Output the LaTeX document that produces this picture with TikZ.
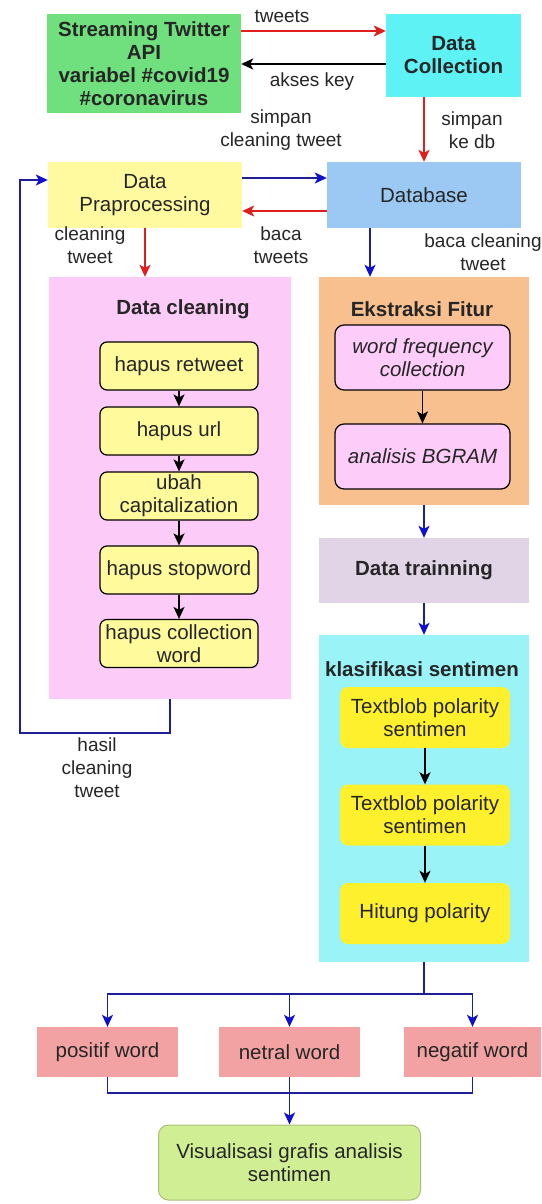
\documentclass[tikz,border=0pt]{standalone}
\usepackage{fontspec}
\setmainfont{Liberation Sans}
\usetikzlibrary{arrows.meta}
\definecolor{cGreen}{HTML}{70E07E}
\definecolor{cCyan}{HTML}{5EF2F5}
\definecolor{cPrep}{HTML}{FFF9A0}
\definecolor{cDb}{HTML}{9CC9F4}
\definecolor{cPink}{HTML}{FCCBF8}
\definecolor{cPeach}{HTML}{F8C08E}
\definecolor{cInPink}{HTML}{FDCCF9}
\definecolor{cLav}{HTML}{E0D4E6}
\definecolor{cKlas}{HTML}{9AF3F7}
\definecolor{cTb}{HTML}{FFF02E}
\definecolor{cSalmon}{HTML}{F2A2A2}
\definecolor{cVis}{HTML}{D0EE94}
\definecolor{cVisB}{HTML}{A8BE7A}
\definecolor{cInYel}{HTML}{FFFA9C}
\definecolor{cTxt}{HTML}{262626}
\definecolor{cNavy}{HTML}{1E1E96}
\definecolor{cBlueTip}{HTML}{1010D0}
\definecolor{cRed}{HTML}{E01E1E}
\newcommand\fsMain{\fontsize{20.5}{23}\selectfont}
\newcommand\fsLab{\fontsize{19}{23}\selectfont}
\begin{document}
\begin{tikzpicture}[x=1pt,y=-1pt,
  base/.style={inner sep=0pt,align=center,font=\fsMain,text=cTxt},
  lab/.style={inner sep=0pt,align=center,font=\fsLab,text=cTxt},
  ttl/.style={inner sep=0pt,align=center,font=\fsMain\bfseries,text=cTxt},
  inyel/.style={base,draw=black,line width=1.2pt,rounded corners=7pt,fill=cInYel,minimum width=158pt,minimum height=48pt},
  inpink/.style={base,draw=black,line width=1.2pt,rounded corners=9pt,fill=cInPink,minimum width=175pt,minimum height=65pt,font=\fsMain\itshape},
  tbbox/.style={base,rounded corners=8pt,fill=cTb,minimum width=170pt,minimum height=61pt},
  wordbox/.style={base,fill=cSalmon,minimum height=50pt},
  redarr/.style={line width=1.5pt,draw=cRed,-{Stealth[length=12pt,width=11pt,inset=3pt]}},
  bluearr/.style={line width=1.5pt,draw=cNavy,-{Stealth[length=12pt,width=11pt,inset=3pt,color=cBlueTip]}},
  blackarr/.style={line width=1.5pt,draw=black,-{Stealth[length=12pt,width=11pt,inset=3pt]}},
  blueline/.style={line width=1.5pt,draw=cNavy}
]
\useasboundingbox (0,0) rectangle (541,1204);
\fill[white] (0,0) rectangle (541,1204);

% top row
\node[base,fill=cGreen,minimum width=194pt,minimum height=99pt,font=\fsMain\bfseries] (stream) at (144,63.5) {Streaming Twitter\\API\\variabel \#covid19\\\#coronavirus};
\node[base,fill=cCyan,minimum width=135pt,minimum height=83pt,font=\fsMain\bfseries] (dcoll) at (453.5,55.5) {Data\\Collection};

% second row
\node[base,fill=cPrep,minimum width=194pt,minimum height=66pt] (dprep) at (145,195) {Data\\Praprocessing};
\node[base,fill=cDb,minimum width=194pt,minimum height=66pt] (db) at (424,195) {Database};

% data cleaning group
\node[fill=cPink,minimum width=242pt,minimum height=422pt,inner sep=0pt] (dclean) at (170,488) {};
\node[ttl] (tclean) at (183,309) {Data cleaning};
\node[inyel] (hr) at (179,366) {hapus retweet};
\node[inyel] (hu) at (179,431) {hapus url};
\node[inyel] (uc) at (179,496) {ubah\\capitalization};
\node[inyel] (hs) at (179,570) {hapus stopword};
\node[inyel] (hc) at (179,643.5) {hapus collection\\word};

% ekstraksi group
\node[fill=cPeach,minimum width=210pt,minimum height=228pt,inner sep=0pt] (ekstr) at (424,391) {};
\node[ttl] (tekstr) at (422,309) {Ekstraksi Fitur};
\node[inpink] (wf) at (422.5,357.5) {word frequency\\collection};
\node[inpink] (ab) at (422.5,456.5) {analisis BGRAM};

% data training
\node[base,fill=cLav,minimum width=210pt,minimum height=65pt,font=\fsMain\bfseries] (dtrain) at (424,570.5) {Data trainning};

% klasifikasi group
\node[fill=cKlas,minimum width=210pt,minimum height=327pt,inner sep=0pt] (klas) at (424,798.5) {};
\node[ttl] (tklas) at (422,669) {klasifikasi sentimen};
\node[tbbox] (tb1) at (425,717.5) {Textblob polarity\\sentimen};
\node[tbbox] (tb2) at (425,815) {Textblob polarity\\sentimen};
\node[tbbox] (hp) at (425,913.5) {Hitung polarity};

% word boxes
\node[wordbox,minimum width=141pt] (pos) at (107.5,1052) {positif word};
\node[wordbox,minimum width=141pt] (net) at (289.5,1052) {netral word};
\node[wordbox,minimum width=137pt] (neg) at (472.5,1052) {negatif word};

\node[base,fill=cVis,draw=cVisB,line width=1pt,rounded corners=10pt,minimum width=262pt,minimum height=75pt] (vis) at (289.5,1162.5) {Visualisasi grafis analisis\\sentimen};

% labels
\node[lab] (ltweets) at (282,16) {tweets};
\node[lab] (lakses) at (312,82) {akses key};
\node[lab] (lsimclean) at (281,130) {simpan\\cleaning tweet};
\node[lab] (lsimdb) at (472,130) {simpan\\ke db};
\node[lab] (lclean) at (90,245) {cleaning\\tweet};
\node[lab] (lbaca) at (281,245) {baca\\tweets};
\node[lab] (lbacaclean) at (483,252) {baca cleaning\\tweet};
\node[lab] (lhasil) at (97,768) {hasil\\cleaning\\tweet};

% connectors top
\draw[redarr] ([yshift=32.5pt]stream.east) -- ([yshift=24.5pt]dcoll.west);
\draw[blackarr] ([yshift=-8.5pt]dcoll.west) -- ([yshift=-0.5pt]stream.east);
\draw[redarr] (dcoll.south -| db.north) -- (db.north);
\draw[bluearr] ([yshift=17pt]dprep.east) -- ([yshift=17pt]db.west);
\draw[redarr] ([yshift=-16pt]db.west) -- ([yshift=-16pt]dprep.east);
\draw[redarr] (dprep.south) -- (dprep.south |- dclean.north);
\draw[bluearr] ([xshift=-54pt]db.south) -- ([xshift=-54pt]ekstr.north);

% inner steps
\draw[blackarr] (hr) -- (hu);
\draw[blackarr] (hu) -- (uc);
\draw[blackarr] (uc) -- (hs);
\draw[blackarr] (hs) -- (hc);
\draw[blackarr] (wf) -- (ab);
\draw[blackarr] (tb1) -- (tb2);
\draw[blackarr] (tb2) -- (hp);

% right column
\draw[bluearr] (ekstr.south) -- (dtrain.north);
\draw[bluearr] (dtrain.south) -- (klas.north);

% loop back
\coordinate (lp) at (20,733);
\draw[bluearr] (dclean.south) |- (lp) |- ([yshift=15pt]dprep.west);

% split to word boxes
\coordinate (j1) at (424,994);
\draw[blueline] (klas.south) -- (j1);
\draw[bluearr] (j1) -| (pos.north);
\draw[bluearr] (j1) -| (neg.north);
\draw[bluearr] (net.north |- j1) -- (net.north);

% merge to visualisasi
\coordinate (j2) at (289.5,1093);
\draw[blueline] (pos.south) |- (j2);
\draw[blueline] (neg.south) |- (j2);
\draw[bluearr] (net.south) -- (vis.north);
\end{tikzpicture}
\end{document}
